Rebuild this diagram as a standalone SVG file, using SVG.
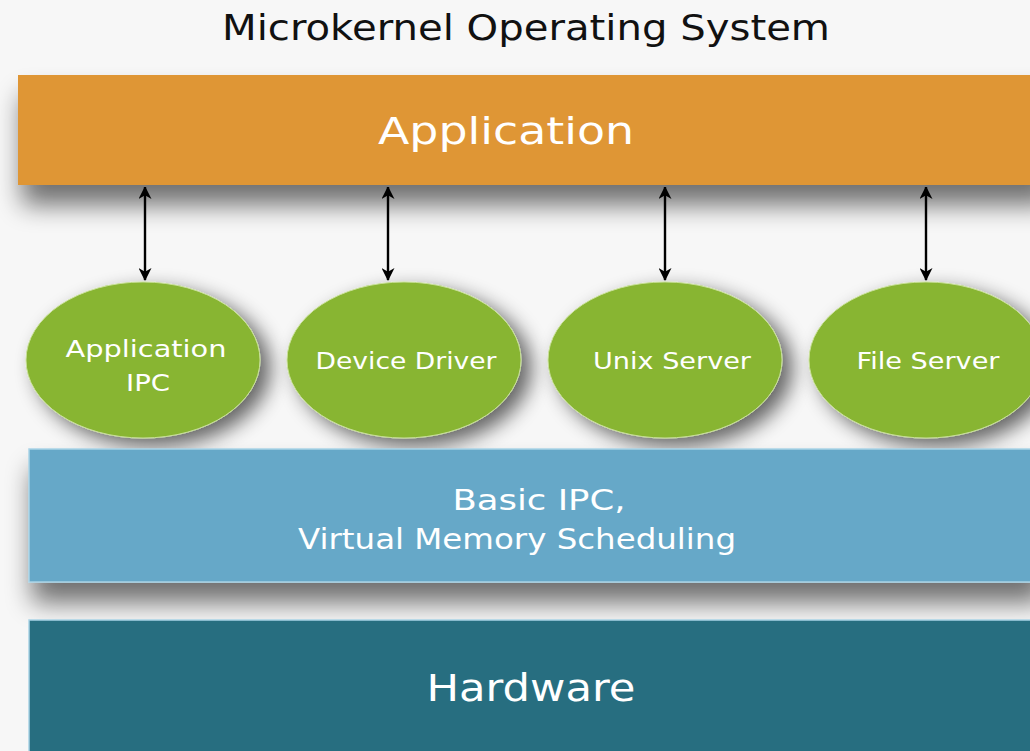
<svg xmlns="http://www.w3.org/2000/svg" width="1030" height="751" viewBox="0 0 1030 751">
<defs>
<filter id="sh" x="-20%" y="-50%" width="140%" height="220%">
<feGaussianBlur in="SourceAlpha" stdDeviation="13"/>
<feOffset dx="4" dy="20"/>
<feComponentTransfer><feFuncA type="linear" slope="0.55"/></feComponentTransfer>
<feMerge><feMergeNode/><feMergeNode in="SourceGraphic"/></feMerge>
</filter>
<filter id="esh" x="-30%" y="-30%" width="160%" height="160%">
<feGaussianBlur in="SourceAlpha" stdDeviation="10"/>
<feOffset dx="10" dy="8"/>
<feComponentTransfer><feFuncA type="linear" slope="0.6"/></feComponentTransfer>
<feMerge><feMergeNode/><feMergeNode in="SourceGraphic"/></feMerge>
</filter>
<marker id="ah" viewBox="0 0 12 14" refX="13" refY="7" markerWidth="14" markerHeight="13" orient="auto-start-reverse" markerUnits="userSpaceOnUse">
<path d="M0,0 L14,7 L0,14 L4,7 Z" fill="#000"/>
</marker>
<style>
text{font-family:"DejaVu Sans","Liberation Sans",sans-serif;text-anchor:middle;}
.w{fill:#fff;}
.el{fill:#88b532;stroke:#c9e09a;stroke-width:1;}
.arr{stroke:#000;stroke-width:2.4;fill:none;marker-start:url(#ah);marker-end:url(#ah);}
</style>
</defs>
<rect width="1030" height="751" fill="#f7f7f7"/>
<text x="526" y="40" font-size="35" fill="#111" textLength="608" lengthAdjust="spacingAndGlyphs">Microkernel Operating System</text>
<g id="application">
<rect x="18" y="75" width="1030" height="110" fill="#df9636" filter="url(#sh)"/>
<text class="w" x="506" y="144" font-size="38" textLength="256" lengthAdjust="spacingAndGlyphs">Application</text>
</g>
<g id="connectors">
<line class="arr" x1="145" y1="187" x2="145" y2="280"/>
<line class="arr" x1="388" y1="187" x2="388" y2="280"/>
<line class="arr" x1="665" y1="187" x2="665" y2="280"/>
<line class="arr" x1="926" y1="187" x2="926" y2="280"/>
</g>
<g id="app-ipc">
<ellipse class="el" cx="143" cy="360" rx="117" ry="78" filter="url(#esh)"/>
<text class="w" x="146" y="357" font-size="23" textLength="161" lengthAdjust="spacingAndGlyphs">Application</text>
<text class="w" x="148" y="391" font-size="23" textLength="44" lengthAdjust="spacingAndGlyphs">IPC</text>
</g>
<g id="device-driver">
<ellipse class="el" cx="404" cy="360" rx="117" ry="78" filter="url(#esh)"/>
<text class="w" x="406" y="369" font-size="23" textLength="181" lengthAdjust="spacingAndGlyphs">Device Driver</text>
</g>
<g id="unix-server">
<ellipse class="el" cx="665" cy="360" rx="117" ry="78" filter="url(#esh)"/>
<text class="w" x="672" y="369" font-size="23" textLength="158" lengthAdjust="spacingAndGlyphs">Unix Server</text>
</g>
<g id="file-server">
<ellipse class="el" cx="926" cy="360" rx="117" ry="78" filter="url(#esh)"/>
<text class="w" x="928" y="369" font-size="23" textLength="143" lengthAdjust="spacingAndGlyphs">File Server</text>
</g>
<g id="kernel">
<rect x="29" y="449" width="1010" height="133" fill="#66a8c8" stroke="#a9d3e6" stroke-width="1.5" filter="url(#sh)"/>
<text class="w" x="539" y="510" font-size="28" textLength="173" lengthAdjust="spacingAndGlyphs">Basic IPC,</text>
<text class="w" x="517" y="549" font-size="28" textLength="438" lengthAdjust="spacingAndGlyphs">Virtual Memory Scheduling</text>
</g>
<g id="hardware">
<rect x="29" y="620" width="1010" height="140" fill="#276e80" stroke="#a9d3e6" stroke-width="1.5"/>
<text class="w" x="531" y="701" font-size="37" textLength="209" lengthAdjust="spacingAndGlyphs">Hardware</text>
</g>
</svg>
